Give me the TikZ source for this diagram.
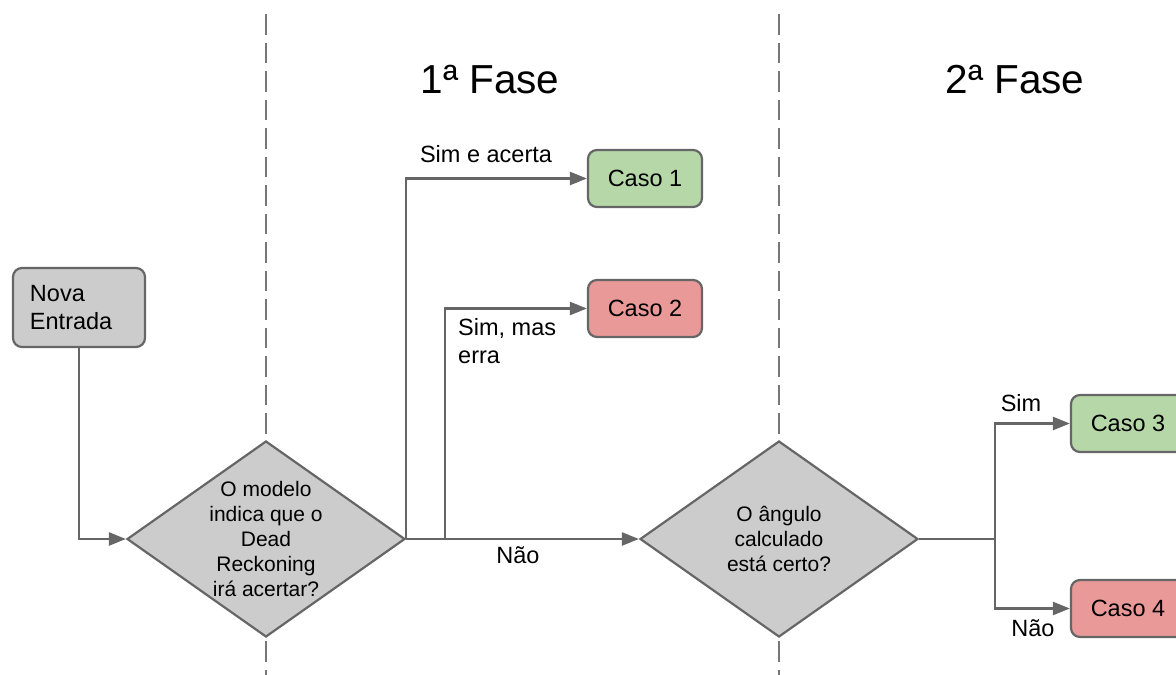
\documentclass[tikz,border=0pt]{standalone}
\usepackage{fontspec}
\setmainfont{Liberation Sans}
\usetikzlibrary{shapes.geometric,arrows.meta}

\definecolor{edge}{HTML}{666666}
\definecolor{lane}{HTML}{777777}
\definecolor{boxgray}{HTML}{CCCCCC}
\definecolor{okgreen}{HTML}{B6D7A8}
\definecolor{badred}{HTML}{EA9999}

\tikzset{
  flowbox/.style={draw=edge, line width=2.2pt, rounded corners=9pt,
    minimum width=114pt, minimum height=57pt, inner sep=0pt,
    font=\fontsize{23.5}{28}\selectfont},
  startbox/.style={flowbox, fill=boxgray, minimum width=132pt, minimum height=79pt,
    text width=98pt, align=left},
  casegood/.style={flowbox, fill=okgreen},
  casebad/.style={flowbox, fill=badred},
  decision/.style={diamond, draw=edge, line width=2.2pt, fill=boxgray,
    minimum width=278pt, minimum height=196pt, inner sep=0pt},
  qtext/.style={align=center, inner sep=0pt, font=\fontsize{21}{25}\selectfont},
  flow/.style={draw=edge, line width=2.4pt, -{Triangle[length=17pt,width=13pt]}},
  plain/.style={draw=edge, line width=2.4pt},
  lanesep/.style={draw=lane, line width=2.4pt, dash pattern=on 20.5pt off 8pt},
  lbl/.style={inner sep=0pt, font=\fontsize{23.5}{28}\selectfont},
  phase/.style={inner sep=0pt, font=\fontsize{40.5}{44}\selectfont}
}

\begin{document}
\begin{tikzpicture}[x=1pt,y=-1pt]
  \useasboundingbox (0,0) rectangle (1176,675);

  % lane separators between the phases
  \coordinate (laneAtop) at (266,14);
  \coordinate (laneAbot) at (266,680);
  \coordinate (laneBtop) at (779,14);
  \coordinate (laneBbot) at (779,680);
  \draw[lanesep] (laneAtop) -- (laneAbot);
  \draw[lanesep] (laneBtop) -- (laneBbot);

  % phase titles
  \node[phase] (f1) at (490,80) {1ª Fase};
  \node[phase] (f2) at (1015,80) {2ª Fase};

  % nodes
  \node[startbox] (ne) at (79,307.5) {Nova\\Entrada};
  \node[decision, label={[qtext]center:O modelo\\indica que o\\Dead\\Reckoning\\irá acertar?}]
    (d1) at (266,539) {};
  \node[decision, label={[qtext]center:O ângulo\\calculado\\está certo?}]
    (d2) at (779,539) {};
  \node[casegood] (c1) at (645,178.5) {Caso 1};
  \node[casebad]  (c2) at (645,308.5) {Caso 2};
  \node[casegood] (c3) at (1128,423.5) {Caso 3};
  \node[casebad]  (c4) at (1128,608.5) {Caso 4};

  % branch points
  \coordinate (b2) at (445,539);
  \coordinate (b3) at (995,539);

  % connectors
  \draw[flow] (ne.south) |- (d1.west);
  \draw[flow] (d1.east) |- (c1.west);
  \draw[flow] (b2) |- (c2.west);
  \draw[flow] (d1.east) -- (d2.west);
  \draw[plain] (d2.east) -- (b3);
  \draw[flow] (b3) |- (c3.west);
  \draw[flow] (b3) |- (c4.west);

  % edge labels
  \node[lbl] (lsim1) at (486,154) {Sim e acerta};
  \node[lbl, anchor=west, align=left] (lsim2) at (458,341) {Sim, mas\\erra};
  \node[lbl] (lnao1) at (518,555) {Não};
  \node[lbl] (lsim3) at (1021,403) {Sim};
  \node[lbl] (lnao2) at (1033,628) {Não};
\end{tikzpicture}
\end{document}
